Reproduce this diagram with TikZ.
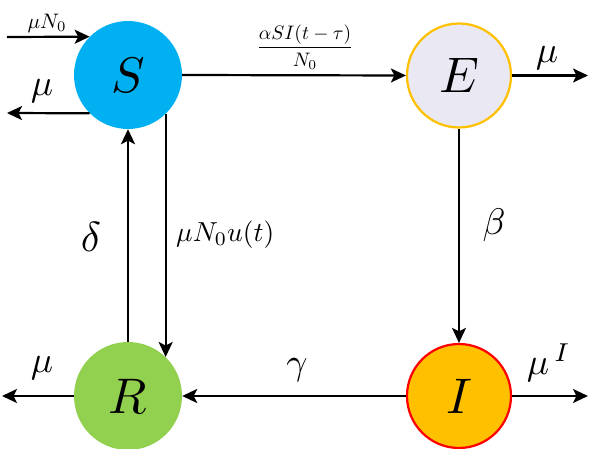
\documentclass[tikz,border=0pt]{standalone}
\usepackage{amsmath}
\usepackage{graphicx}
\usetikzlibrary{arrows.meta}
\definecolor{sblue}{RGB}{0,176,240}
\definecolor{elav}{RGB}{234,232,242}
\definecolor{eor}{RGB}{255,192,0}
\definecolor{rgreen}{RGB}{146,208,80}
\definecolor{iorange}{RGB}{255,192,0}
\definecolor{ired}{RGB}{255,0,0}
\newcommand{\stname}[1]{\scalebox{5}{$#1$}}
\newcommand{\lbtext}[1]{\scalebox{3.7}{$#1$}}
\begin{document}
\begin{tikzpicture}[x=1pt,y=-1pt,
  state/.style={circle, minimum size=108pt, inner sep=0pt},
  flow/.style={line width=2.2pt, -{Stealth[length=15pt,width=14pt,inset=3.5pt]}},
  lab/.style={inner sep=0pt}]
\useasboundingbox (0,0) rectangle (590,449);
\node[state, fill=sblue] (S) at (128,75) {\stname{S}};
\node[state, fill=elav, draw=eor, line width=2.2pt, minimum size=104pt] (E) at (459,75.5) {\stname{E}};
\node[state, fill=rgreen] (R) at (128,396) {\stname{R}};
\node[state, fill=iorange, draw=ired, line width=2.2pt, minimum size=104pt] (I) at (459,396) {\stname{I}};
% free ends
\coordinate (inS) at (7,37);
\coordinate (outS) at (7,113);
\coordinate (outE) at (588,75.5);
\coordinate (outI) at (588,396);
\coordinate (outR) at (2,396);
% connectors
\draw[flow] (inS) -- (S.135);
\draw[flow] (S.225) -- (outS);
\draw[flow] (S.east) -- (E.west);
\draw[flow] (E.east) -- (outE);
\draw[flow] (E.south) -- (I.north);
\draw[flow] (I.west) -- (R.east);
\draw[flow] (I.east) -- (outI);
\draw[flow] (R.west) -- (outR);
\draw[flow] (R.north) -- (S.south);
\draw[flow] (S.-46.7) -- (R.46.7);
% labels
\node[lab] (l1) at (47,23) {\scalebox{2.1}{$\mu N_0$}};
\node[lab] (l2) at (42,91) {\lbtext{\mu}};
\node[lab] (l3) at (305,47) {\scalebox{1.95}{$\dfrac{\alpha SI(t-\tau)}{N_0}$}};
\node[lab] (l4) at (547,58) {\lbtext{\mu}};
\node[lab] (l5) at (494,225) {\lbtext{\beta}};
\node[lab] (l6) at (297,370) {\lbtext{\gamma}};
\node[lab] (l7) at (549,363) {\lbtext{\mu^{\,I}}};
\node[lab] (l8) at (42,368) {\lbtext{\mu}};
\node[lab] (l9) at (91,237) {\scalebox{4.2}{$\delta$}};
\node[lab, anchor=west] (l10) at (176,235) {\scalebox{2.75}{$\mu N_0 u(t)$}};
\end{tikzpicture}
\end{document}
